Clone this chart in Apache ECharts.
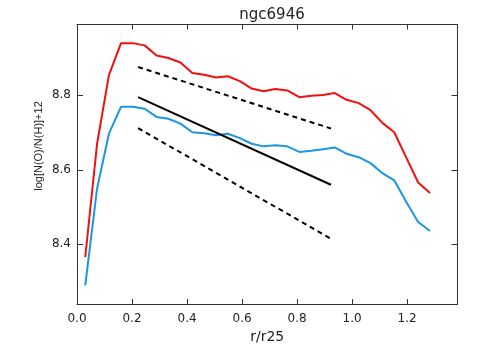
<!DOCTYPE html>
<html>
<head>
<meta charset="utf-8">
<title>ngc6946</title>
<script src="https://cdn.jsdelivr.net/npm/echarts@6/dist/echarts.min.js"></script>
<style>
	body { margin: 0; background: #fff; }
	#chart { width: 481px; height: 354px; }
</style>
</head>
<body>
<div id="chart"></div>
<script>
// radius in units of r25
var radius = [0.030, 0.073, 0.116, 0.160, 0.203, 0.246, 0.289, 0.332, 0.376, 0.419,
	0.462, 0.505, 0.548, 0.592, 0.635, 0.678, 0.721, 0.764, 0.808, 0.851,
	0.894, 0.937, 0.980, 1.024, 1.067, 1.110, 1.153, 1.196, 1.240, 1.283];
// upper (red) and lower (blue) abundance profiles
var redProfile = [8.366, 8.670, 8.854, 8.940, 8.940, 8.934, 8.907, 8.900, 8.888, 8.860,
	8.855, 8.848, 8.851, 8.838, 8.818, 8.811, 8.817, 8.813, 8.795, 8.799,
	8.801, 8.806, 8.788, 8.779, 8.760, 8.726, 8.701, 8.634, 8.566, 8.538];
var blueProfile = [8.290, 8.550, 8.697, 8.769, 8.769, 8.764, 8.742, 8.737, 8.724, 8.701,
	8.698, 8.693, 8.697, 8.685, 8.670, 8.663, 8.666, 8.663, 8.648, 8.651,
	8.655, 8.660, 8.643, 8.634, 8.618, 8.591, 8.572, 8.515, 8.460, 8.436];
// gradient fit and its bounds
var fitX = [0.222, 0.923];
var fitY = [8.795, 8.560];
var upperY = [8.876, 8.711];
var lowerY = [8.712, 8.415];
var xTicks = [0, 0.2, 0.4, 0.6, 0.8, 1.0, 1.2];
var yTicks = [8.4, 8.6, 8.8];

function pairs(xs, ys) {
	return xs.map(function (x, i) { return [x, ys[i]]; });
}

var font = 'DejaVu Sans';
var frame = '#333';

function xAxisCfg(pos, labels) {
	return {
		type: 'value', position: pos, min: 0, max: 1.383,
		name: labels ? 'r/r25' : '', nameLocation: 'middle', nameGap: 22,
		nameTextStyle: { fontFamily: font, fontSize: 14, color: '#222' },
		axisLine: { show: true, onZero: false, lineStyle: { color: frame, width: 1 } },
		axisTick: { show: true, inside: true, length: 5, customValues: xTicks, lineStyle: { color: frame } },
		axisLabel: { show: labels, margin: 9, customValues: xTicks, fontFamily: font, fontSize: 12, color: '#222',
			formatter: function (v) { return v.toFixed(1); } },
		splitLine: { show: false }
	};
}
function yAxisCfg(pos, labels) {
	return {
		type: 'value', position: pos, min: 8.24, max: 8.99,
		axisLine: { show: true, onZero: false, lineStyle: { color: frame, width: 1 } },
		axisTick: { show: true, inside: true, length: 6, customValues: yTicks, lineStyle: { color: frame } },
		axisLabel: { show: labels, margin: 6, customValues: yTicks, fontFamily: font, fontSize: 12, color: '#222',
			formatter: function (v) { return v.toFixed(1); } },
		splitLine: { show: false }
	};
}

var myChart = echarts.init(document.getElementById('chart'));
myChart.setOption({
	animation: false,
	title: {
		text: 'ngc6946', left: 267, top: 3, textAlign: 'center',
		textStyle: { fontFamily: font, fontSize: 15, fontWeight: 'normal', color: '#222' }
	},
	// y axis title sits a bit above the plot centre in the original
	graphic: [{
		type: 'text', x: 38.5, y: 146, rotation: Math.PI / 2,
		style: { text: 'log[N(O)/N(H)]+12', fontFamily: 'Liberation Sans', fontSize: 11, fill: '#222',
			align: 'center', verticalAlign: 'middle' }
	}],
	grid: { left: 77, right: 23.5, top: 24.5, bottom: 50 },
	xAxis: [xAxisCfg('bottom', true), xAxisCfg('top', false)],
	yAxis: [yAxisCfg('left', true), yAxisCfg('right', false)],
	series: [
		{ type: 'line', data: pairs(radius, redProfile), showSymbol: false,
			lineStyle: { color: '#f01010', width: 2 } },
		{ type: 'line', data: pairs(radius, blueProfile), showSymbol: false,
			lineStyle: { color: '#1a96e6', width: 2 } },
		{ type: 'line', data: pairs(fitX, fitY), showSymbol: false,
			lineStyle: { color: '#000', width: 2 } },
		{ type: 'line', data: pairs(fitX, upperY), showSymbol: false,
			lineStyle: { color: '#000', width: 2, type: [5, 4] } },
		{ type: 'line', data: pairs(fitX, lowerY), showSymbol: false,
			lineStyle: { color: '#000', width: 2, type: [5, 4] } }
	]
});
</script>
</body>
</html>
